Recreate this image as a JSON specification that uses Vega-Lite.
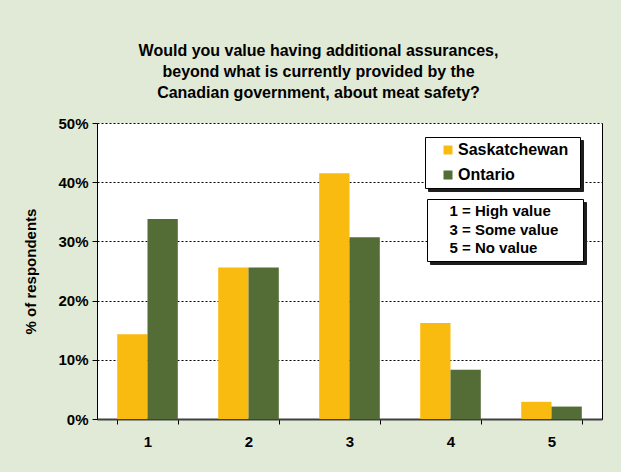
{
  "$schema": "https://vega.github.io/schema/vega-lite/v6.json",
  "width": 505,
  "height": 296,
  "autosize": {"type": "none"},
  "padding": {"left": 97, "top": 123, "right": 19, "bottom": 53},
  "background": "#E1EAD6",
  "config": {
    "font": "Liberation Sans",
    "view": {"stroke": null, "fill": "white"}
  },
  "title": {
    "text": ["Would you value having additional assurances,", "beyond what is currently provided by the", "Canadian government, about meat safety?"],
    "fontSize": 16,
    "fontWeight": "bold",
    "color": "#000000",
    "anchor": "middle",
    "frame": "group",
    "dx": -31,
    "offset": 15,
    "lineHeight": 21
  },
  "layer": [
    {
      "data": {
        "values": [
          {"rating": "1", "region": "Saskatchewan", "pct": 0.143},
          {"rating": "1", "region": "Ontario", "pct": 0.338},
          {"rating": "2", "region": "Saskatchewan", "pct": 0.256},
          {"rating": "2", "region": "Ontario", "pct": 0.256},
          {"rating": "3", "region": "Saskatchewan", "pct": 0.415},
          {"rating": "3", "region": "Ontario", "pct": 0.307},
          {"rating": "4", "region": "Saskatchewan", "pct": 0.162},
          {"rating": "4", "region": "Ontario", "pct": 0.083},
          {"rating": "5", "region": "Saskatchewan", "pct": 0.029},
          {"rating": "5", "region": "Ontario", "pct": 0.021}
        ]
      },
      "mark": {"type": "bar"},
      "encoding": {
        "x": {
          "field": "rating",
          "type": "ordinal",
          "scale": {"paddingInner": 0.4, "paddingOuter": 0.2},
          "axis": {
            "title": null,
            "labelAngle": 0,
            "labelFontSize": 15,
            "labelFontWeight": "bold",
            "labelColor": "#000000",
            "labelPadding": 10,
            "tickBand": "extent",
            "ticks": true,
            "tickSize": 5,
            "tickColor": "#000000",
            "domainColor": "#404040",
            "domainWidth": 2,
            "grid": false
          }
        },
        "xOffset": {"field": "region", "type": "nominal", "sort": ["Saskatchewan", "Ontario"]},
        "y": {
          "field": "pct",
          "type": "quantitative",
          "scale": {"domain": [0, 0.5]},
          "axis": {
            "values": [0, 0.1, 0.2, 0.3, 0.4, 0.5],
            "format": ".0%",
            "title": "% of respondents",
            "titleFontSize": 15,
            "titleFontWeight": "bold",
            "titleColor": "#000000",
            "titlePadding": 19,
            "labelFontSize": 15,
            "labelFontWeight": "bold",
            "labelColor": "#000000",
            "labelPadding": 4,
            "tickSize": 5,
            "tickColor": "#000000",
            "domainColor": "#000000",
            "grid": true,
            "gridColor": "#000000",
            "gridDash": [2, 2],
            "gridWidth": 1
          }
        },
        "color": {
          "field": "region",
          "type": "nominal",
          "sort": ["Saskatchewan", "Ontario"],
          "scale": {"domain": ["Saskatchewan", "Ontario"], "range": ["#FABB10", "#546D37"]},
          "legend": {
            "title": ".",
            "titleOrient": "right",
            "titleFontSize": 16,
            "titleColor": "#FFFFFF",
            "titlePadding": 2,
            "orient": "none",
            "legendX": 328,
            "legendY": 14,
            "zindex": 2,
            "strokeColor": "#000000",
            "fillColor": "#FFFFFF",
            "padding": 5,
            "symbolType": "square",
            "symbolSize": 81,
            "symbolStrokeWidth": 0,
            "symbolOffset": 10,
            "labelOffset": 2,
            "labelFontSize": 16,
            "labelFontWeight": "bold",
            "labelColor": "#000000",
            "rowPadding": 9
          }
        },
        "opacity": {
          "field": "region",
          "type": "nominal",
          "scale": {"domain": ["Ontario", "Saskatchewan"], "range": [1, 1]},
          "legend": {
            "title": ".",
            "titleOrient": "right",
            "titleFontSize": 16,
            "titleColor": "#1E1E1E",
            "titlePadding": 2,
            "orient": "none",
            "legendX": 331,
            "legendY": 17,
            "zindex": 1,
            "strokeColor": "#1E1E1E",
            "fillColor": "#1E1E1E",
            "padding": 5,
            "symbolType": "square",
            "symbolSize": 81,
            "symbolFillColor": "#1E1E1E",
            "symbolStrokeWidth": 0,
            "symbolOffset": 10,
            "labelOffset": 2,
            "labelFontSize": 16,
            "labelFontWeight": "bold",
            "labelColor": "#1E1E1E",
            "rowPadding": 9
          }
        }
      }
    },
    {
      "data": {
        "values": [
          {"key": "1 = High value"},
          {"key": "3 = Some value"},
          {"key": "5 = No value"}
        ]
      },
      "mark": {"type": "point", "size": 0, "strokeWidth": 0, "strokeOpacity": 0, "fillOpacity": 0},
      "encoding": {
        "y": {
          "datum": 0,
          "type": "quantitative",
          "axis": {"orient": "right", "title": null, "labels": false, "ticks": false, "grid": false, "domain": true, "domainColor": "#000000"}
        },
        "shape": {
          "field": "key",
          "type": "nominal",
          "sort": ["1 = High value", "3 = Some value", "5 = No value"],
          "legend": {
            "title": ".",
            "titleOrient": "right",
            "titleFontSize": 15,
            "titleColor": "#FFFFFF",
            "titlePadding": 15,
            "orient": "none",
            "legendX": 330,
            "legendY": 76,
            "zindex": 2,
            "strokeColor": "#000000",
            "fillColor": "#FFFFFF",
            "padding": 4.5,
            "symbolSize": 0,
            "symbolOpacity": 0,
            "symbolStrokeWidth": 0,
            "labelOffset": 3,
            "labelFontSize": 15,
            "labelFontWeight": "bold",
            "labelColor": "#000000",
            "rowPadding": 2.5
          }
        },
        "opacity": {
          "field": "key",
          "type": "nominal",
          "scale": {"domain": ["5 = No value", "3 = Some value", "1 = High value"], "range": [1, 1, 1]},
          "legend": {
            "title": ".",
            "titleOrient": "right",
            "titleFontSize": 15,
            "titleColor": "#1E1E1E",
            "titlePadding": 15,
            "orient": "none",
            "legendX": 333,
            "legendY": 79,
            "zindex": 1,
            "strokeColor": "#1E1E1E",
            "fillColor": "#1E1E1E",
            "padding": 4.5,
            "symbolSize": 0,
            "symbolOpacity": 0,
            "symbolStrokeWidth": 0,
            "labelOffset": 3,
            "labelFontSize": 15,
            "labelFontWeight": "bold",
            "labelColor": "#1E1E1E",
            "rowPadding": 2.5
          }
        }
      }
    }
  ],
  "resolve": {
    "axis": {"y": "independent"},
    "scale": {"opacity": "independent"},
    "legend": {"opacity": "independent"}
  }
}
